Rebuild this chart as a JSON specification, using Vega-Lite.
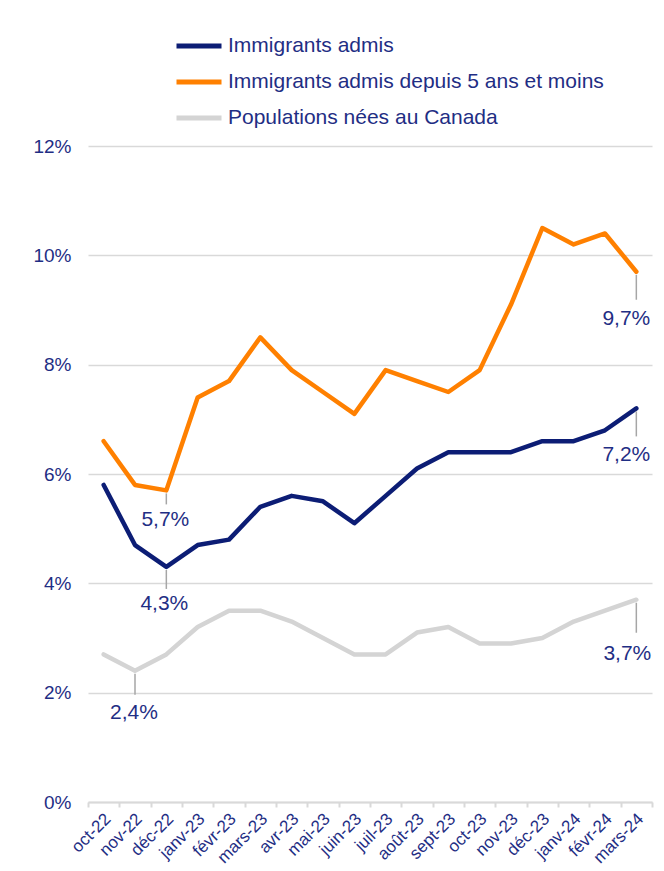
{
  "$schema": "https://vega.github.io/schema/vega-lite/v6.json",
  "width": 564,
  "height": 656,
  "autosize": "none",
  "padding": {"left": 88, "top": 146, "right": 12, "bottom": 69},
  "background": "white",
  "config": {
    "view": {"stroke": null},
    "font": "Liberation Sans"
  },
  "datasets": {
    "series": [
      {"month": "oct-22", "series": "Immigrants admis", "value": 5.8},
      {"month": "nov-22", "series": "Immigrants admis", "value": 4.7},
      {"month": "déc-22", "series": "Immigrants admis", "value": 4.3},
      {"month": "janv-23", "series": "Immigrants admis", "value": 4.7},
      {"month": "févr-23", "series": "Immigrants admis", "value": 4.8},
      {"month": "mars-23", "series": "Immigrants admis", "value": 5.4},
      {"month": "avr-23", "series": "Immigrants admis", "value": 5.6},
      {"month": "mai-23", "series": "Immigrants admis", "value": 5.5},
      {"month": "juin-23", "series": "Immigrants admis", "value": 5.1},
      {"month": "juil-23", "series": "Immigrants admis", "value": 5.6},
      {"month": "août-23", "series": "Immigrants admis", "value": 6.1},
      {"month": "sept-23", "series": "Immigrants admis", "value": 6.4},
      {"month": "oct-23", "series": "Immigrants admis", "value": 6.4},
      {"month": "nov-23", "series": "Immigrants admis", "value": 6.4},
      {"month": "déc-23", "series": "Immigrants admis", "value": 6.6},
      {"month": "janv-24", "series": "Immigrants admis", "value": 6.6},
      {"month": "févr-24", "series": "Immigrants admis", "value": 6.8},
      {"month": "mars-24", "series": "Immigrants admis", "value": 7.2},
      {"month": "oct-22", "series": "Immigrants admis depuis 5 ans et moins", "value": 6.6},
      {"month": "nov-22", "series": "Immigrants admis depuis 5 ans et moins", "value": 5.8},
      {"month": "déc-22", "series": "Immigrants admis depuis 5 ans et moins", "value": 5.7},
      {"month": "janv-23", "series": "Immigrants admis depuis 5 ans et moins", "value": 7.4},
      {"month": "févr-23", "series": "Immigrants admis depuis 5 ans et moins", "value": 7.7},
      {"month": "mars-23", "series": "Immigrants admis depuis 5 ans et moins", "value": 8.5},
      {"month": "avr-23", "series": "Immigrants admis depuis 5 ans et moins", "value": 7.9},
      {"month": "mai-23", "series": "Immigrants admis depuis 5 ans et moins", "value": 7.5},
      {"month": "juin-23", "series": "Immigrants admis depuis 5 ans et moins", "value": 7.1},
      {"month": "juil-23", "series": "Immigrants admis depuis 5 ans et moins", "value": 7.9},
      {"month": "août-23", "series": "Immigrants admis depuis 5 ans et moins", "value": 7.7},
      {"month": "sept-23", "series": "Immigrants admis depuis 5 ans et moins", "value": 7.5},
      {"month": "oct-23", "series": "Immigrants admis depuis 5 ans et moins", "value": 7.9},
      {"month": "nov-23", "series": "Immigrants admis depuis 5 ans et moins", "value": 9.1},
      {"month": "déc-23", "series": "Immigrants admis depuis 5 ans et moins", "value": 10.5},
      {"month": "janv-24", "series": "Immigrants admis depuis 5 ans et moins", "value": 10.2},
      {"month": "févr-24", "series": "Immigrants admis depuis 5 ans et moins", "value": 10.4},
      {"month": "mars-24", "series": "Immigrants admis depuis 5 ans et moins", "value": 9.7},
      {"month": "oct-22", "series": "Populations nées au Canada", "value": 2.7},
      {"month": "nov-22", "series": "Populations nées au Canada", "value": 2.4},
      {"month": "déc-22", "series": "Populations nées au Canada", "value": 2.7},
      {"month": "janv-23", "series": "Populations nées au Canada", "value": 3.2},
      {"month": "févr-23", "series": "Populations nées au Canada", "value": 3.5},
      {"month": "mars-23", "series": "Populations nées au Canada", "value": 3.5},
      {"month": "avr-23", "series": "Populations nées au Canada", "value": 3.3},
      {"month": "mai-23", "series": "Populations nées au Canada", "value": 3.0},
      {"month": "juin-23", "series": "Populations nées au Canada", "value": 2.7},
      {"month": "juil-23", "series": "Populations nées au Canada", "value": 2.7},
      {"month": "août-23", "series": "Populations nées au Canada", "value": 3.1},
      {"month": "sept-23", "series": "Populations nées au Canada", "value": 3.2},
      {"month": "oct-23", "series": "Populations nées au Canada", "value": 2.9},
      {"month": "nov-23", "series": "Populations nées au Canada", "value": 2.9},
      {"month": "déc-23", "series": "Populations nées au Canada", "value": 3.0},
      {"month": "janv-24", "series": "Populations nées au Canada", "value": 3.3},
      {"month": "févr-24", "series": "Populations nées au Canada", "value": 3.5},
      {"month": "mars-24", "series": "Populations nées au Canada", "value": 3.7}
    ],
    "labels": [
      {"id": "a", "month": "déc-22", "value": 5.7, "text": "5,7%"},
      {"id": "b", "month": "déc-22", "value": 4.3, "text": "4,3%"},
      {"id": "c", "month": "nov-22", "value": 2.4, "text": "2,4%"},
      {"id": "d", "month": "mars-24", "value": 9.7, "text": "9,7%"},
      {"id": "e", "month": "mars-24", "value": 7.2, "text": "7,2%"},
      {"id": "f", "month": "mars-24", "value": 3.7, "text": "3,7%"}
    ]
  },
  "encoding": {
    "x": {
      "field": "month",
      "type": "ordinal",
      "bandPosition": 0.5,
      "sort": ["oct-22","nov-22","déc-22","janv-23","févr-23","mars-23","avr-23","mai-23","juin-23","juil-23","août-23","sept-23","oct-23","nov-23","déc-23","janv-24","févr-24","mars-24"],
      "scale": {"type": "band", "paddingInner": 0, "paddingOuter": 0},
      "axis": {
        "title": null,
        "labelAngle": -45,
        "labelAlign": "right",
        "labelBaseline": "middle",
        "labelFont": "Liberation Sans",
        "labelFontSize": 17,
        "labelColor": "#1f2e84",
        "labelPadding": 9,
        "labelOffset": 4,
        "tickBand": "extent",
        "tickColor": "#d9d9d9",
        "tickSize": 5,
        "tickWidth": 2,
        "domainColor": "#d9d9d9",
        "domainWidth": 2,
        "grid": false
      }
    },
    "y": {
      "field": "value",
      "type": "quantitative",
      "scale": {"domain": [0, 12], "nice": false},
      "axis": {
        "title": null,
        "values": [0, 2, 4, 6, 8, 10, 12],
        "labelExpr": "datum.value + '%'",
        "labelFont": "Liberation Sans",
        "labelFontSize": 19,
        "labelColor": "#1f2e84",
        "labelPadding": 17,
        "ticks": false,
        "domain": false,
        "grid": true,
        "gridColor": "#d9d9d9",
        "gridWidth": 1.5
      }
    }
  },
  "layer": [
    {
      "data": {"name": "series"},
      "mark": {"type": "line", "strokeWidth": 4.5, "strokeCap": "round", "strokeJoin": "round"},
      "encoding": {
        "color": {
          "field": "series",
          "type": "nominal",
          "scale": {
            "domain": ["Immigrants admis", "Immigrants admis depuis 5 ans et moins", "Populations nées au Canada"],
            "range": ["#0c1d75", "#ff8000", "#d4d4d4"]
          },
          "legend": {
            "title": null,
            "orient": "none",
            "legendX": 86,
            "legendY": -125,
            "direction": "vertical",
            "symbolType": "stroke",
            "symbolSize": 2025,
            "symbolStrokeWidth": 5,
            "labelFont": "Liberation Sans",
            "labelFontSize": 21,
            "labelColor": "#1f2e84",
            "labelOffset": 4,
            "rowPadding": 1,
            "labelLimit": 600
          }
        }
      }
    },
    {
      "data": {"name": "labels"},
      "transform": [{"filter": "datum.id == 'a'"}],
      "layer": [
        {"mark": {"type": "rule", "color": "#a6a6a6", "strokeWidth": 1.5, "yOffset": 3, "y2Offset": 14}, "encoding": {"y2": {"field": "value"}}},
        {"mark": {"type": "text", "dy": 30, "dx": -1, "fontSize": 21, "color": "#1f2e84"}, "encoding": {"text": {"field": "text"}}}
      ]
    },
    {
      "data": {"name": "labels"},
      "transform": [{"filter": "datum.id == 'b'"}],
      "layer": [
        {"mark": {"type": "rule", "color": "#a6a6a6", "strokeWidth": 1.5, "yOffset": 3, "y2Offset": 22}, "encoding": {"y2": {"field": "value"}}},
        {"mark": {"type": "text", "dy": 37, "dx": -2, "fontSize": 21, "color": "#1f2e84"}, "encoding": {"text": {"field": "text"}}}
      ]
    },
    {
      "data": {"name": "labels"},
      "transform": [{"filter": "datum.id == 'c'"}],
      "layer": [
        {"mark": {"type": "rule", "color": "#a6a6a6", "strokeWidth": 1.5, "yOffset": 3, "y2Offset": 24}, "encoding": {"y2": {"field": "value"}}},
        {"mark": {"type": "text", "dy": 42, "dx": -1, "fontSize": 21, "color": "#1f2e84"}, "encoding": {"text": {"field": "text"}}}
      ]
    },
    {
      "data": {"name": "labels"},
      "transform": [{"filter": "datum.id == 'd'"}],
      "layer": [
        {"mark": {"type": "rule", "color": "#a6a6a6", "strokeWidth": 1.5, "yOffset": 3, "y2Offset": 28}, "encoding": {"y2": {"field": "value"}}},
        {"mark": {"type": "text", "dy": 47, "dx": -10, "fontSize": 21, "color": "#1f2e84"}, "encoding": {"text": {"field": "text"}}}
      ]
    },
    {
      "data": {"name": "labels"},
      "transform": [{"filter": "datum.id == 'e'"}],
      "layer": [
        {"mark": {"type": "rule", "color": "#a6a6a6", "strokeWidth": 1.5, "yOffset": 3, "y2Offset": 28}, "encoding": {"y2": {"field": "value"}}},
        {"mark": {"type": "text", "dy": 47, "dx": -10, "fontSize": 21, "color": "#1f2e84"}, "encoding": {"text": {"field": "text"}}}
      ]
    },
    {
      "data": {"name": "labels"},
      "transform": [{"filter": "datum.id == 'f'"}],
      "layer": [
        {"mark": {"type": "rule", "color": "#a6a6a6", "strokeWidth": 1.5, "yOffset": 3, "y2Offset": 33}, "encoding": {"y2": {"field": "value"}}},
        {"mark": {"type": "text", "dy": 54, "dx": -9, "fontSize": 21, "color": "#1f2e84"}, "encoding": {"text": {"field": "text"}}}
      ]
    }
  ]
}
